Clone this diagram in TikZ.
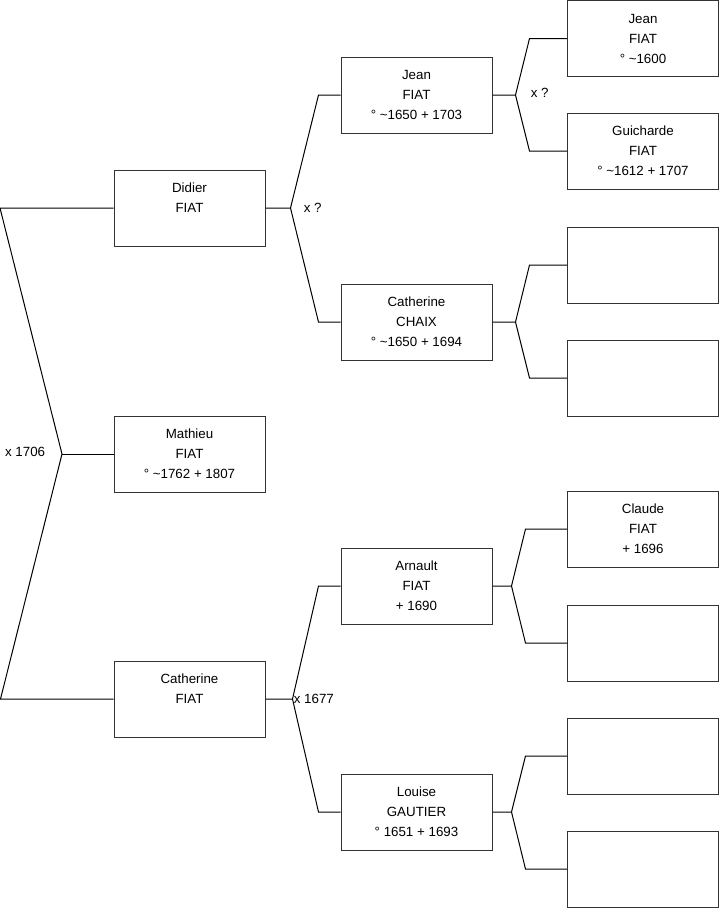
\documentclass[tikz,border=0pt]{standalone}
\usepackage{fontspec}
\setmainfont{Liberation Sans}
\usepackage{tikz}

\begin{document}
\begin{tikzpicture}[x=0.75pt,y=-0.75pt,line width=0.75pt,
      pers/.style={draw=black!80,rectangle,font=\fontsize{10}{15}\selectfont,
        align=center,minimum width=113.25pt,minimum height=57pt,inner sep=0pt},
      mar/.style={font=\fontsize{10}{15}\selectfont,inner sep=1pt}]
    \useasboundingbox (0,0) rectangle (719,908);
    % generation 1
    \node[pers](didier)    at (189.5,208) {Didier\\FIAT\\\phantom{1}};
    \node[pers](mathieu)   at (189.5,454) {Mathieu\\FIAT\\° \textasciitilde1762 + 1807};
    \node[pers](catherine) at (189.5,699) {Catherine\\FIAT\\\phantom{1}};
    % generation 2
    \node[pers](jean)    at (416.5,95)  {Jean\\FIAT\\° \textasciitilde1650 + 1703};
    \node[pers](chaix)   at (416.5,322) {Catherine\\CHAIX\\° \textasciitilde1650 + 1694};
    \node[pers](arnault) at (416.5,586) {Arnault\\FIAT\\+ 1690};
    \node[pers](louise)  at (416.5,812) {Louise\\GAUTIER\\° 1651 + 1693};
    % generation 3
    \node[pers](jeanG)     at (643,38.5) {Jean\\FIAT\\° \textasciitilde1600};
    \node[pers](guicharde) at (643,151)  {Guicharde\\FIAT\\° \textasciitilde1612 + 1707};
    \node[pers](e1)        at (643,265)  {};
    \node[pers](e2)        at (643,378)  {};
    \node[pers](claude)    at (643,529)  {Claude\\FIAT\\+ 1696};
    \node[pers](e3)        at (643,643)  {};
    \node[pers](e4)        at (643,756)  {};
    \node[pers](e5)        at (643,869)  {};
    % couples
    \coordinate (f0) at (62,454);
    \draw(didier.west)--++(-113.5,0)--(f0)--++(-61.5,245)--(catherine.west);\draw(f0)--(mathieu.west);
    \node[mar,anchor=east](m0) at (47,452) {x 1706};
    \draw(didier.east)--++(25,0) coordinate (f1)--++(28,-113)--(jean.west);
    \draw(f1)--++(28,114)--(chaix.west);
    \node[mar,anchor=west](m1) at (302,208) {x ?};
    \draw(catherine.east)--++(27,0) coordinate (f2)--++(26,-113)--(arnault.west);
    \draw(f2)--++(26,113)--(louise.west);
    \node[mar,anchor=west](m2) at (292,699) {x 1677};
    \draw(jean.east)--++(23,0) coordinate (f3)--++(14,-56.5)--(jeanG.west);
    \draw(f3)--++(14,56)--(guicharde.west);
    \node[mar,anchor=west](m3) at (529,93) {x ?};
    \draw(chaix.east)--++(23,0) coordinate (f4)--++(14,-57)--(e1.west);
    \draw(f4)--++(14,56)--(e2.west);
    \draw(arnault.east)--++(19,0) coordinate (f5)--++(14,-57)--(claude.west);
    \draw(f5)--++(14,57)--(e3.west);
    \draw(louise.east)--++(19,0) coordinate (f6)--++(14,-56)--(e4.west);
    \draw(f6)--++(14,57)--(e5.west);
  \end{tikzpicture}
\end{document}
